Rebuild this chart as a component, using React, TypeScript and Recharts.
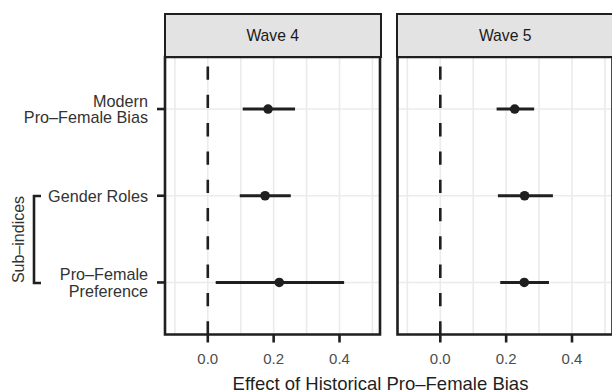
import {
  ScatterChart,
  Scatter,
  XAxis,
  YAxis,
  CartesianGrid,
  ReferenceLine,
  ReferenceArea,
  ErrorBar,
} from "recharts";

// sub-indices, top to bottom
const subIndices = ["Modern\nPro–Female Bias", "Gender Roles", "Pro–Female\nPreference"];
const panels = ["Wave 4", "Wave 5"];

// point estimates and 95% intervals
const wave4Est = [0.183, 0.174, 0.217];
const wave4Low = [0.106, 0.097, 0.024];
const wave4High = [0.265, 0.252, 0.414];

const wave5Est = [0.226, 0.256, 0.255];
const wave5Low = [0.171, 0.175, 0.182];
const wave5High = [0.285, 0.342, 0.33];

const xBreaks = [-0.1, 0, 0.1, 0.2, 0.3, 0.4, 0.5];
const xLabelled = [0, 0.2, 0.4];
const xDomain: [number, number] = [-0.13, 0.523];
// discrete y positions (1..3) with ggplot's 0.6 expansion
const yTicks = [1, 2, 3];
const yDomain: [number, number] = [0.4, 3.6];

const FONT = '"Liberation Sans", Arial, Helvetica, sans-serif';
const INK = "#1f1f1f";
const GRID = "#ebebeb";
const BORDER = 2.6;

const rows = (est: number[], low: number[], high: number[]) =>
  subIndices.map((label, i) => ({
    label,
    pos: yTicks[i],
    est: est[i],
    err: [est[i] - low[i], high[i] - est[i]],
  }));

const XTick = (props: any) => {
  const { x, y, payload } = props;
  if (!xLabelled.some((v) => Math.abs(v - payload.value) < 1e-9)) return <g />;
  return (
    <g>
      <line x1={x} x2={x} y1={y} y2={y + 8} stroke={INK} strokeWidth={BORDER} />
      <text x={x} y={y + 29} textAnchor="middle" fontSize={15} fill="#4d4d4d" fontFamily={FONT}>
        {payload.value.toFixed(1)}
      </text>
    </g>
  );
};

const YTick = (props: any) => {
  const { x, y, payload } = props;
  const lines = subIndices[payload.value - 1].split("\n");
  const lh = 16.6;
  return (
    <g>
      <line x1={x - 8} x2={x} y1={y} y2={y} stroke={INK} strokeWidth={BORDER} />
      <text textAnchor="end" fontSize={16.2} fill="#333" fontFamily={FONT}>
        {lines.map((l, i) => (
          <tspan key={i} x={x - 17} y={y + (i - (lines.length - 1) / 2) * lh + 5.8}>
            {l}
          </tspan>
        ))}
      </text>
    </g>
  );
};

function Panel({
  data,
  showY,
  width,
  marginLeft,
  marginRight,
}: {
  data: any[];
  showY: boolean;
  width: number;
  marginLeft: number;
  marginRight: number;
}) {
  return (
    <ScatterChart
      width={width}
      height={392}
      margin={{ top: 57, right: marginRight, bottom: 17.5, left: marginLeft }}
    >
      <CartesianGrid stroke={GRID} strokeWidth={1.6} />
      <XAxis
        type="number"
        dataKey="est"
        domain={xDomain}
        ticks={xBreaks}
        interval={0}
        allowDataOverflow
        tick={XTick}
        tickLine={false}
        axisLine={false}
        tickSize={0}
        tickMargin={0}
        height={40}
      />
      <YAxis
        type="number"
        dataKey="pos"
        domain={yDomain}
        ticks={yTicks}
        reversed
        allowDataOverflow
        hide={!showY}
        width={showY ? 165 : 0}
        tick={YTick}
        tickLine={false}
        axisLine={false}
        tickSize={0}
        tickMargin={0}
        interval={0}
      />
      {/* drawn bottom-up, so the pattern starts with a dash at the x axis */}
      <ReferenceLine x={0} stroke={INK} strokeWidth={BORDER} strokeDasharray="13.3 15" />
      <Scatter
        data={data}
        isAnimationActive={false}
        shape={(p: any) => <circle cx={p.cx} cy={p.cy} r={4.8} fill={INK} />}
      >
        <ErrorBar dataKey="err" direction="x" width={0} strokeWidth={3} stroke={INK} />
      </Scatter>
      <ReferenceArea
        x1={xDomain[0]}
        x2={xDomain[1]}
        y1={yDomain[0]}
        y2={yDomain[1]}
        fill="none"
        fillOpacity={0}
        stroke={INK}
        strokeWidth={BORDER}
        ifOverflow="visible"
      />
    </ScatterChart>
  );
}

const stripStyle = (left: number): React.CSSProperties => ({
  position: "absolute",
  left,
  top: 13,
  width: 218,
  height: 45,
  boxSizing: "border-box",
  border: `${BORDER}px solid ${INK}`,
  background: "#e3e3e3",
  display: "flex",
  alignItems: "center",
  justifyContent: "center",
  fontSize: 15.7,
  color: "#1a1a1a",
  fontFamily: FONT,
});

export default function App() {
  return (
    <div
      style={{
        position: "absolute",
        left: 0,
        top: 0,
        width: 612,
        height: 392,
        overflow: "hidden",
        background: "#fff",
        fontFamily: FONT,
      }}
    >
      <div style={{ position: "absolute", left: 0, top: 0 }}>
        <Panel data={rows(wave4Est, wave4Low, wave4High)} showY width={390} marginLeft={0} marginRight={10} />
      </div>
      <div style={{ position: "absolute", left: 390, top: 0 }}>
        <Panel data={rows(wave5Est, wave5Low, wave5High)} showY={false} width={230} marginLeft={7.5} marginRight={7.5} />
      </div>
      <div style={stripStyle(163.7)}>{panels[0]}</div>
      <div style={stripStyle(396.2)}>{panels[1]}</div>
      <svg width={612} height={392} style={{ position: "absolute", left: 0, top: 0, pointerEvents: "none" }}>
        <polyline points="41,196 34,196 34,283 41,283" fill="none" stroke={INK} strokeWidth={BORDER} />
        <text
          transform="translate(23.5,239.5) rotate(-90)"
          textAnchor="middle"
          fontSize={16}
          fill="#333"
          fontFamily={FONT}
        >
          Sub–indices
        </text>
        <text x={380.5} y={389.5} textAnchor="middle" fontSize={18.5} fill="#1f1f1f" fontFamily={FONT}>
          Effect of Historical Pro–Female Bias
        </text>
      </svg>
    </div>
  );
}
